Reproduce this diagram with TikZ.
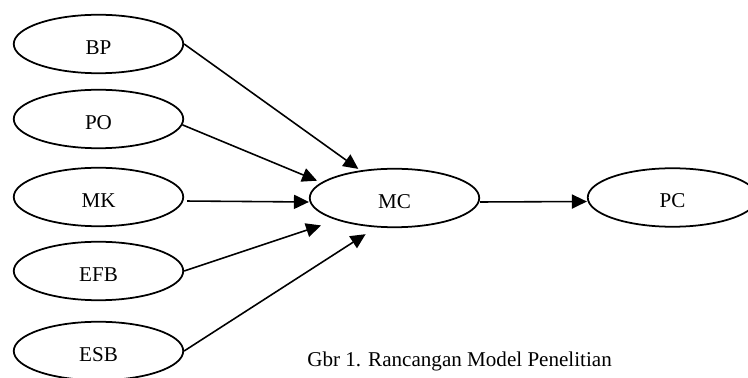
\documentclass[tikz,border=0pt]{standalone}
\usepackage{fontspec}
\setmainfont{Liberation Serif}
\usetikzlibrary{shapes.geometric, arrows.meta, positioning}

\begin{document}
\begin{tikzpicture}[
    x=0.02cm, y=-0.02cm,
    >={Triangle[length=8.5pt, width=8pt]},
    var/.style={draw, ellipse, line width=1pt, inner sep=0pt, minimum width=3.39cm, minimum height=1.17cm, text height=11.5pt, text depth=0pt, font=\fontsize{12}{14}\selectfont},
    arrow/.style={->, line width=0.9pt},
  ]
  \useasboundingbox (0,0) rectangle (748,378);
  % Independent variables
  \node[var] (bp) at (98.5,44) {BP};
  \node[var] (po) at (98.5,119) {PO};
  \node[var] (mk) at (98.5,197) {MK};
  \node[var] (efb) at (98.5,271) {EFB};
  \node[var] (esb) at (98.5,351) {ESB};
  % Mediator and outcome
  \node[var] (mc) at (394.5,198) {MC};
  \node[var] (pc) at (672.5,197.5) {PC};
  % Paths into MC
  \draw[arrow, shorten >=0.05cm] (bp.east) -- (mc.141.4);
  \draw[arrow, shorten >=0.09cm] (po.-4) -- (mc.168.4);
  \draw[arrow, shorten <=0.06cm] ([yshift=-0.08cm]mk.east) -- ([yshift=-0.08cm]mc.west);
  \draw[arrow, shorten >=0.33cm] (efb.east) -- (mc.201.6);
  \draw[arrow, shorten >=0.25cm] (esb.east) -- (mc.238.2);
  % Path to PC
  \draw[arrow] ([yshift=-0.08cm]mc.east) -- ([yshift=-0.08cm]pc.west);
  % Caption
  \node[anchor=base west, inner sep=0pt, font=\fontsize{12}{14}\selectfont] (caption) at (307,367) {Gbr 1. Rancangan Model Penelitian};
\end{tikzpicture}
\end{document}
